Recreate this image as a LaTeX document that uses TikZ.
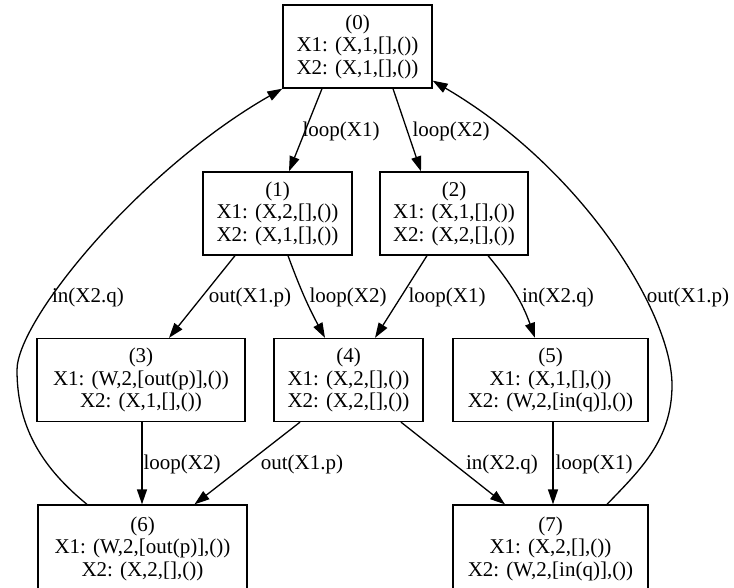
\documentclass[tikz,border=0pt]{standalone}
\usepackage{fontspec}
\setmainfont{Liberation Serif}
\usetikzlibrary{arrows.meta}
\newcommand\statefont{\fontsize{21}{22.5}\selectfont}
\begin{document}
\begin{tikzpicture}[x=1pt,y=-1pt,
  state/.style={draw, line width=1.3pt, rectangle, minimum height=83pt,
    inner sep=0pt, align=center, font=\statefont},
  edge/.style={line width=1.3pt, -{Triangle[length=15pt,width=10pt]}},
  lbl/.style={font=\statefont, inner sep=0pt}]
\useasboundingbox (0,0) rectangle (734,588);

% states
\node[state, minimum width=149pt] (n0) at (357.5,46.5) {(0)\\X1: (X,1,[],())\\X2: (X,1,[],())};
\node[state, minimum width=149pt] (n1) at (277.5,213.5) {(1)\\X1: (X,2,[],())\\X2: (X,1,[],())};
\node[state, minimum width=148pt] (n2) at (454,213.5) {(2)\\X1: (X,1,[],())\\X2: (X,2,[],())};
\node[state, minimum width=208pt] (n3) at (141,380) {(3)\\X1: (W,2,[out(p)],())\\X2: (X,1,[],())};
\node[state, minimum width=149pt] (n4) at (348.5,380) {(4)\\X1: (X,2,[],())\\X2: (X,2,[],())};
\node[state, minimum width=195pt] (n5) at (550.5,380) {(5)\\X1: (X,1,[],())\\X2: (W,2,[in(q)],())};
\node[state, minimum width=209pt, minimum height=87pt] (n6) at (142.5,548.5) {(6)\\X1: (W,2,[out(p)],())\\X2: (X,2,[],())};
\node[state, minimum width=195pt, minimum height=87pt] (n7) at (550.5,548.5) {(7)\\X1: (X,2,[],())\\X2: (W,2,[in(q)],())};

% transitions
\draw[edge] ([xshift=-35.5pt]n0.south) -- ([xshift=11.5pt]n1.north);
\draw[edge] ([xshift=35.5pt]n0.south) -- ([xshift=-33pt]n2.north);
\draw[edge] ([xshift=-42.5pt]n1.south) -- ([xshift=28pt]n3.north);
\draw[edge] ([xshift=10.5pt]n1.south) to[bend right=4] ([xshift=-23.5pt]n4.north);
\draw[edge] ([xshift=-27pt]n2.south) -- ([xshift=26.5pt]n4.north);
\draw[edge] ([xshift=34pt]n2.south) to[bend left=10] ([xshift=-15.5pt]n5.north);
\draw[edge] ([xshift=1pt]n3.south) -- ([xshift=-0.5pt]n6.north);
\draw[edge] ([xshift=-48.5pt]n4.south) -- ([xshift=52pt]n6.north);
\draw[edge] ([xshift=52.5pt]n4.south) -- ([xshift=-45.5pt]n7.north);
\draw[edge] ([xshift=2.5pt]n5.south) -- ([xshift=2.5pt]n7.north);
\draw[edge] ([xshift=-55.5pt]n6.north) .. controls (45,470) and (17,430) .. (17,370)
  .. controls (17,320) and (140,170) .. (n0.south west);
\draw[edge] ([xshift=56.5pt]n7.north) .. controls (640,470) and (672,440) .. (672,385)
  .. controls (672,315) and (585,170) .. ([yshift=8pt]n0.south east);

% transition labels
\node[lbl] (l01) at (341,131) {loop(X1)};
\node[lbl] (l02) at (451,131) {loop(X2)};
\node[lbl] (l13) at (250,297) {out(X1.p)};
\node[lbl] (l14) at (348,297) {loop(X2)};
\node[lbl] (l24) at (447,297) {loop(X1)};
\node[lbl] (l25) at (558,297) {in(X2.q)};
\node[lbl] (l60) at (88,297) {in(X2.q)};
\node[lbl] (l70) at (688,297) {out(X1.p)};
\node[lbl] (l36) at (182,464) {loop(X2)};
\node[lbl] (l46) at (302,464) {out(X1.p)};
\node[lbl] (l47) at (502,464) {in(X2.q)};
\node[lbl] (l57) at (594,464) {loop(X1)};
\end{tikzpicture}
\end{document}
